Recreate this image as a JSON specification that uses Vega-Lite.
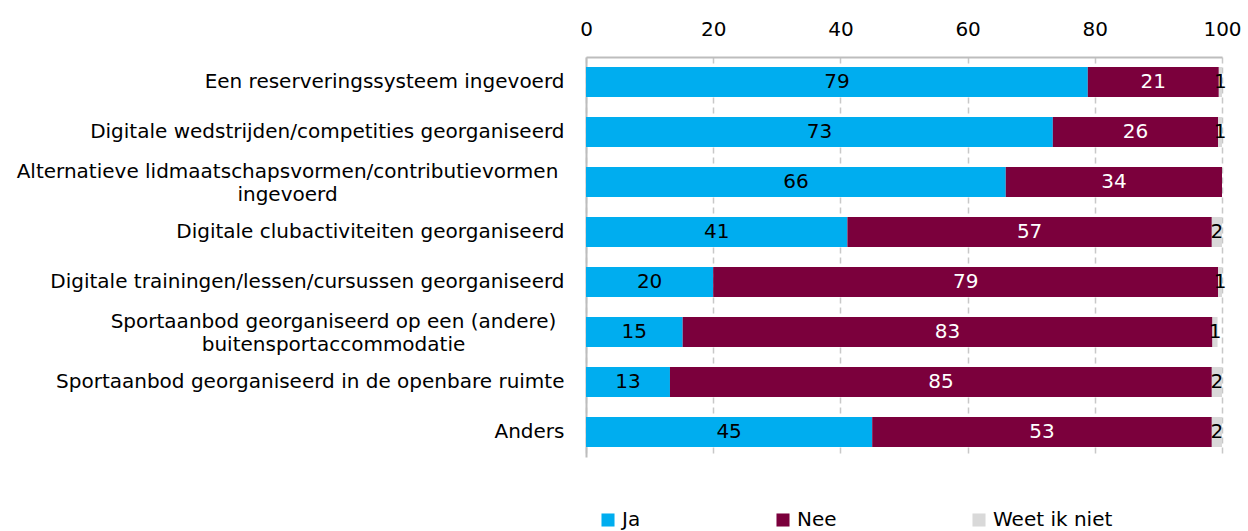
{
  "$schema": "https://vega.github.io/schema/vega-lite/v6.json",
  "width": 636,
  "height": 400,
  "autosize": "none",
  "padding": {"left": 586, "top": 57, "right": 26, "bottom": 74},
  "background": "white",
  "config": {
    "view": {"stroke": null},
    "font": "DejaVu Sans",
    "axis": {"labelFont": "DejaVu Sans", "labelFontSize": 20, "labelColor": "#000000"},
    "legend": {"labelFont": "DejaVu Sans", "labelFontSize": 20, "labelColor": "#000000"}
  },
  "data": {
    "values": [
      {"cat": "Een reserveringssysteem ingevoerd", "k": "Ja", "v": 78.9},
      {"cat": "Een reserveringssysteem ingevoerd", "k": "Nee", "v": 20.6},
      {"cat": "Een reserveringssysteem ingevoerd", "k": "Weet ik niet", "v": 0.5},
      {"cat": "Digitale wedstrijden/competities georganiseerd", "k": "Ja", "v": 73.4},
      {"cat": "Digitale wedstrijden/competities georganiseerd", "k": "Nee", "v": 26.0},
      {"cat": "Digitale wedstrijden/competities georganiseerd", "k": "Weet ik niet", "v": 0.6},
      {"cat": "Alternatieve lidmaatschapsvormen/contributievormen ingevoerd", "k": "Ja", "v": 66.0},
      {"cat": "Alternatieve lidmaatschapsvormen/contributievormen ingevoerd", "k": "Nee", "v": 34.0},
      {"cat": "Digitale clubactiviteiten georganiseerd", "k": "Ja", "v": 41.1},
      {"cat": "Digitale clubactiviteiten georganiseerd", "k": "Nee", "v": 57.3},
      {"cat": "Digitale clubactiviteiten georganiseerd", "k": "Weet ik niet", "v": 1.6},
      {"cat": "Digitale trainingen/lessen/cursussen georganiseerd", "k": "Ja", "v": 20.0},
      {"cat": "Digitale trainingen/lessen/cursussen georganiseerd", "k": "Nee", "v": 79.4},
      {"cat": "Digitale trainingen/lessen/cursussen georganiseerd", "k": "Weet ik niet", "v": 0.6},
      {"cat": "Sportaanbod georganiseerd op een (andere) buitensportaccommodatie", "k": "Ja", "v": 15.2},
      {"cat": "Sportaanbod georganiseerd op een (andere) buitensportaccommodatie", "k": "Nee", "v": 83.3},
      {"cat": "Sportaanbod georganiseerd op een (andere) buitensportaccommodatie", "k": "Weet ik niet", "v": 0.8},
      {"cat": "Sportaanbod georganiseerd in de openbare ruimte", "k": "Ja", "v": 13.2},
      {"cat": "Sportaanbod georganiseerd in de openbare ruimte", "k": "Nee", "v": 85.2},
      {"cat": "Sportaanbod georganiseerd in de openbare ruimte", "k": "Weet ik niet", "v": 1.6},
      {"cat": "Anders", "k": "Ja", "v": 45.0},
      {"cat": "Anders", "k": "Nee", "v": 53.4},
      {"cat": "Anders", "k": "Weet ik niet", "v": 1.6}
    ]
  },
  "transform": [
    {"stack": "v", "groupby": ["cat"], "sort": [{"field": "k", "order": "ascending"}], "as": ["v0", "v1"]},
    {"calculate": "(datum.v0 + datum.v1) / 2", "as": "mid"}
  ],
  "encoding": {
    "y": {
      "field": "cat",
      "type": "nominal",
      "sort": null,
      "title": null,
      "scale": {"paddingInner": 0.4, "paddingOuter": 0.2},
      "axis": {
        "ticks": false,
        "domain": true,
        "domainColor": "#bdbdbd",
        "domainWidth": 2,
        "labelLimit": 700,
        "labelLineHeight": 23,
        "labelAlign": {"condition": {"test": "indexof(datum.value, 'Alternatieve') === 0 || indexof(datum.value, 'Sportaanbod georganiseerd op') === 0", "value": "center"}, "value": "right"},
        "labelOffset": {"condition": {"test": "indexof(datum.value, 'Alternatieve') === 0 || indexof(datum.value, 'Sportaanbod georganiseerd op') === 0", "value": -10}, "value": 0},
        "labelPadding": {"condition": [
          {"test": "indexof(datum.value, 'Alternatieve') === 0", "value": 299},
          {"test": "indexof(datum.value, 'Sportaanbod georganiseerd op') === 0", "value": 253}
        ], "value": 22},
        "labelExpr": "datum.label == 'Alternatieve lidmaatschapsvormen/contributievormen ingevoerd' ? ['Alternatieve lidmaatschapsvormen/contributievormen', 'ingevoerd'] : datum.label == 'Sportaanbod georganiseerd op een (andere) buitensportaccommodatie' ? ['Sportaanbod georganiseerd op een (andere)', 'buitensportaccommodatie'] : datum.label"
      }
    }
  },
  "layer": [
    {
      "mark": {"type": "bar"},
      "encoding": {
        "x": {
          "field": "v0",
          "type": "quantitative",
          "scale": {"domain": [0, 100]},
          "title": null,
          "axis": {
            "orient": "top",
            "values": [0, 20, 40, 60, 80, 100],
            "ticks": false,
            "domain": true,
            "labelPadding": 18,
            "domainColor": "#bdbdbd",
            "domainWidth": 2,
            "grid": true,
            "gridColor": "#c8c8c8",
            "gridDash": [6, 4],
            "gridWidth": 1.5,
            "labelFlush": false
          }
        },
        "x2": {"field": "v1"},
        "color": {
          "field": "k",
          "type": "nominal",
          "scale": {"domain": ["Ja", "Nee", "Weet ik niet"], "range": ["#00adef", "#7b003c", "#d9d9d9"]},
          "legend": {
            "title": null,
            "orient": "none",
            "direction": "horizontal",
            "legendX": 12,
            "legendY": 453,
            "symbolType": "square",
            "symbolSize": 170,
            "symbolStrokeWidth": 0,
            "symbolOffset": 0,
            "labelOffset": 4,
            "columnPadding": 132
          }
        }
      }
    },
    {
      "mark": {"type": "text", "fontSize": 20, "font": "DejaVu Sans", "baseline": "middle", "align": "center"},
      "encoding": {
        "x": {"field": "mid", "type": "quantitative"},
        "text": {"field": "v", "type": "quantitative", "format": ".0f"},
        "color": {"condition": {"test": "datum.k === 'Nee'", "value": "#ffffff"}, "value": "#000000"}
      }
    }
  ]
}
